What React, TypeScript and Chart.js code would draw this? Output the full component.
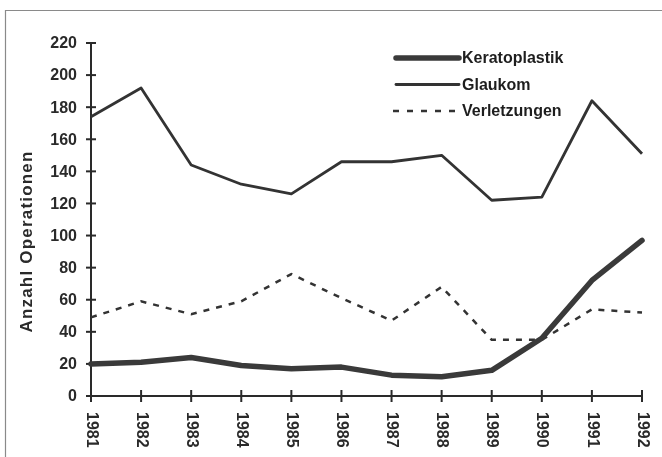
import React, { useEffect, useRef } from "react";
import { Chart, registerables } from "chart.js";

Chart.register(...registerables);

const years = ["1981", "1982", "1983", "1984", "1985", "1986", "1987", "1988", "1989", "1990", "1991", "1992"];
const keratoplastik = [20, 21, 24, 19, 17, 18, 13, 12, 16, 36, 72, 97];
const glaukom = [174, 192, 144, 132, 126, 146, 146, 150, 122, 124, 184, 151];
const verletzungen = [49, 59, 51, 59, 76, 61, 47, 68, 35, 35, 54, 52];
const yTicks = [0, 20, 40, 60, 80, 100, 120, 140, 160, 180, 200, 220];
const seriesNames = ["Keratoplastik", "Glaukom", "Verletzungen"];
const yAxisTitle = "Anzahl Operationen";

const FONT = "bold 16px 'Liberation Sans', Arial, sans-serif";
const INK = "#2a2a2a";

const customPlugin = {
  id: "customAxes",
  beforeDraw(chart: any) {
    const ctx = chart.ctx;
    ctx.save();
    ctx.fillStyle = "#ffffff";
    ctx.fillRect(0, 0, chart.width, chart.height);
    ctx.strokeStyle = "#8a8a8a";
    ctx.lineWidth = 1.2;
    ctx.beginPath();
    ctx.moveTo(5.5, chart.height);
    ctx.lineTo(5.5, 10.5);
    ctx.lineTo(chart.width, 10.5);
    ctx.stroke();
    ctx.restore();
  },
  beforeDatasetsDraw(chart: any) {
    const ctx = chart.ctx;
    const xs = chart.scales.x;
    const ys = chart.scales.y;
    const x0 = xs.getPixelForValue(0);
    const x1 = xs.getPixelForValue(years.length - 1);
    const yTop = ys.getPixelForValue(yTicks[yTicks.length - 1]);
    const yBot = ys.getPixelForValue(0);
    ctx.save();
    ctx.strokeStyle = INK;
    ctx.lineWidth = 2;
    ctx.lineCap = "butt";
    ctx.beginPath();
    ctx.moveTo(x0, yTop);
    ctx.lineTo(x0, yBot);
    ctx.lineTo(x1, yBot);
    ctx.stroke();
    ctx.fillStyle = INK;
    ctx.font = FONT;
    ctx.textAlign = "right";
    ctx.textBaseline = "middle";
    yTicks.forEach((v) => {
      const y = ys.getPixelForValue(v);
      ctx.beginPath();
      ctx.moveTo(x0 - 5, y);
      ctx.lineTo(x0 + 5, y);
      ctx.stroke();
      ctx.fillText(String(v), x0 - 14, y + 1);
    });
    years.forEach((label, i) => {
      const x = xs.getPixelForValue(i);
      ctx.beginPath();
      ctx.moveTo(x, yBot - 6);
      ctx.lineTo(x, yBot + 6);
      ctx.stroke();
      ctx.save();
      ctx.translate(x, yBot + 16);
      ctx.rotate(Math.PI / 2);
      ctx.textAlign = "left";
      ctx.textBaseline = "middle";
      ctx.fillText(label, 0, 0);
      ctx.restore();
    });
    ctx.save();
    ctx.translate(27, (yTop + yBot) / 2 + 22);
    ctx.rotate(-Math.PI / 2);
    ctx.textAlign = "center";
    ctx.textBaseline = "middle";
    ctx.font = "bold 17px 'Liberation Sans', Arial, sans-serif";
    (ctx as any).letterSpacing = "1.2px";
    ctx.fillText(yAxisTitle, 0, 0);
    ctx.restore();
    ctx.restore();
  },
  afterDraw(chart: any) {
    const ctx = chart.ctx;
    ctx.save();
    chart.data.datasets.forEach((ds: any, i: number) => {
      const y = 58 + i * 26.5;
      const dashed = ds.borderDash && ds.borderDash.length;
      ctx.strokeStyle = ds.borderColor;
      ctx.lineWidth = ds.borderWidth;
      ctx.lineCap = dashed ? "butt" : "round";
      ctx.setLineDash(dashed ? [6, 8] : []);
      ctx.beginPath();
      ctx.moveTo(dashed ? 393 : 396, y);
      ctx.lineTo(459, y);
      ctx.stroke();
      ctx.setLineDash([]);
      ctx.fillStyle = "#1e1e1e";
      ctx.font = FONT;
      ctx.textAlign = "left";
      ctx.textBaseline = "middle";
      ctx.fillText(ds.label, 462, y + 1);
    });
    ctx.restore();
  },
};

export default function App() {
  const ref = useRef<HTMLCanvasElement | null>(null);
  useEffect(() => {
    document.body.style.margin = "0";
    if (!ref.current) return;
    const chart = new Chart(ref.current, {
      type: "line",
      data: {
        labels: years,
        datasets: [
          {
            label: seriesNames[0],
            data: keratoplastik,
            borderColor: "#3a3a3a",
            borderWidth: 5.5,
            borderCapStyle: "round",
            borderJoinStyle: "round",
            pointRadius: 0,
            tension: 0,
            clip: false as any,
          },
          {
            label: seriesNames[1],
            data: glaukom,
            borderColor: "#333333",
            borderWidth: 2.8,
            borderJoinStyle: "round",
            pointRadius: 0,
            tension: 0,
            clip: false as any,
          },
          {
            label: seriesNames[2],
            data: verletzungen,
            borderColor: "#333333",
            borderWidth: 2.5,
            borderDash: [6, 7],
            pointRadius: 0,
            tension: 0,
            clip: false as any,
          },
        ],
      },
      options: {
        responsive: false,
        animation: false,
        layout: { padding: { left: 91, right: 20, top: 43, bottom: 61 } },
        plugins: { legend: { display: false }, tooltip: { enabled: false } },
        scales: {
          x: { display: false, offset: false },
          y: { display: false, min: 0, max: 220 },
        },
      },
      plugins: [customPlugin],
    });
    return () => chart.destroy();
  }, []);
  return <canvas ref={ref} width={662} height={457} style={{ display: "block" }} />;
}
